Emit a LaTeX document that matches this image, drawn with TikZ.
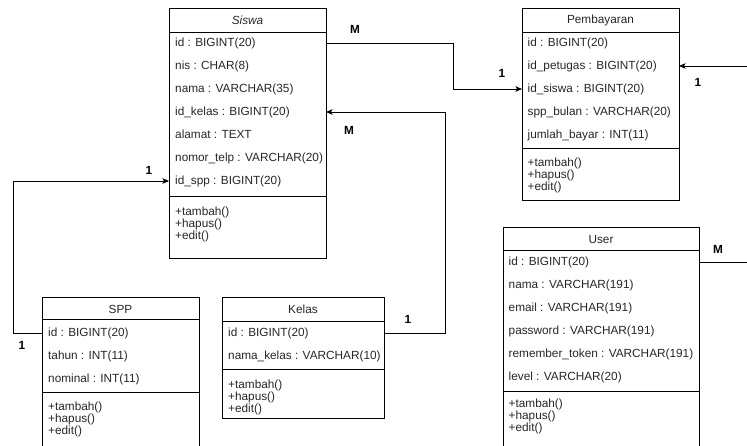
\documentclass[tikz,border=0pt]{standalone}
\usepackage{fontspec}
\setmainfont{Liberation Sans}
\usetikzlibrary{arrows.meta}

\begin{document}
\begin{tikzpicture}[x=1pt, y=-1pt, font=\fontsize{11.8}{14}\selectfont, text=black!85,
	classbox/.style={draw, line width=0.8pt, anchor=north west, inner sep=0pt, outer sep=0pt},
	field/.style={anchor=west, inner sep=0pt, text height=8.7pt, text depth=2.5pt},
	title/.style={inner sep=0pt},
	card/.style={inner sep=0pt, text=black, font=\fontsize{11.8}{14}\selectfont\bfseries},
	link/.style={line width=0.8pt},
	rel/.style={line width=0.8pt, -{Stealth[length=6.5pt, width=5.5pt, inset=1.5pt]}}]
	\path[use as bounding box, clip] (0,0) rectangle (747,445);

	% Siswa
	\node[classbox, minimum width=157pt, minimum height=250pt] (siswa) at (169,8) {};
	\draw[link] (siswa.north west) ++(0,24) -- ++(157,0);
	\draw[link] (siswa.north west) ++(0,188) -- ++(157,0);
	\node[title] (siswa-t) at (247.5,20) {\itshape Siswa};
	\foreach \f [count=\i from 0] in {id : BIGINT(20), nis : CHAR(8), nama : VARCHAR(35), id\_kelas : BIGINT(20), alamat : TEXT, nomor\_telp : VARCHAR(20), id\_spp : BIGINT(20)}
		\node[field] (siswa-\i) at (175,43+23*\i) {\f};
	\foreach \m [count=\i from 0] in {+tambah(), +hapus(), +edit()}
		\node[field] (siswa-m\i) at (175,212+12.4*\i) {\m};

	% Pembayaran
	\node[classbox, minimum width=157pt, minimum height=192pt] (bayar) at (522,8) {};
	\draw[link] (bayar.north west) ++(0,24) -- ++(157,0);
	\draw[link] (bayar.north west) ++(0,140) -- ++(157,0);
	\node[title] (bayar-t) at (600.5,20) {Pembayaran};
	\foreach \f [count=\i from 0] in {id : BIGINT(20), id\_petugas : BIGINT(20), id\_siswa : BIGINT(20), spp\_bulan : VARCHAR(20), jumlah\_bayar : INT(11)}
		\node[field] (bayar-\i) at (527.5,43+23*\i) {\f};
	\foreach \m [count=\i from 0] in {+tambah(), +hapus(), +edit()}
		\node[field] (bayar-m\i) at (527.5,163+12.4*\i) {\m};

	% User
	\node[classbox, minimum width=196pt, minimum height=240pt] (user) at (503,227) {};
	\draw[link] (user.north west) ++(0,23) -- ++(196,0);
	\draw[link] (user.north west) ++(0,164) -- ++(196,0);
	\node[title] (user-t) at (601,239) {User};
	\foreach \f [count=\i from 0] in {id : BIGINT(20), nama : VARCHAR(191), email : VARCHAR(191), password : VARCHAR(191), remember\_token : VARCHAR(191), level : VARCHAR(20)}
		\node[field] (user-\i) at (508.5,262+23*\i) {\f};
	\foreach \m [count=\i from 0] in {+tambah(), +hapus(), +edit()}
		\node[field] (user-m\i) at (508.5,404+12.2*\i) {\m};

	% SPP
	\node[classbox, minimum width=157pt, minimum height=170pt] (spp) at (42,297) {};
	\draw[link] (spp.north west) ++(0,22) -- ++(157,0);
	\draw[link] (spp.north west) ++(0,95) -- ++(157,0);
	\node[title] (spp-t) at (120.5,309) {SPP};
	\foreach \f [count=\i from 0] in {id : BIGINT(20), tahun : INT(11), nominal : INT(11)}
		\node[field] (spp-\i) at (48,333+23*\i) {\f};
	\foreach \m [count=\i from 0] in {+tambah(), +hapus(), +edit()}
		\node[field] (spp-m\i) at (48,407+12.4*\i) {\m};

	% Kelas
	\node[classbox, minimum width=162pt, minimum height=121pt] (kelas) at (222,297) {};
	\draw[link] (kelas.north west) ++(0,24) -- ++(162,0);
	\draw[link] (kelas.north west) ++(0,72) -- ++(162,0);
	\node[title] (kelas-t) at (303,309) {Kelas};
	\foreach \f [count=\i from 0] in {id : BIGINT(20), nama\_kelas : VARCHAR(10)}
		\node[field] (kelas-\i) at (228,333+23*\i) {\f};
	\foreach \m [count=\i from 0] in {+tambah(), +hapus(), +edit()}
		\node[field] (kelas-m\i) at (228,385+12.2*\i) {\m};

	% relations
	\coordinate (petugas-in) at (750,66);
	\coordinate (user-out) at (750,262);
	\draw[rel] (siswa.east |- siswa-0) -- ++(127,0) |- (bayar.west |- bayar-2);
	\draw[rel] (kelas.east |- kelas-0) -- ++(61,0) |- (siswa.east |- siswa-3);
	\draw[rel] (spp.west |- spp-0) -- ++(-29,0) |- (siswa.west |- siswa-6);
	\draw[rel] (petugas-in) -- (bayar.east |- bayar-1);
	\draw[link] (user.east |- user-0) -- (user-out);

	% cardinalities
	\node[card] (c1) at (355,29) {M};
	\node[card] (c2) at (502,73) {1};
	\node[card] (c3) at (349,130) {M};
	\node[card] (c4) at (408,319) {1};
	\node[card] (c5) at (149,170) {1};
	\node[card] (c6) at (22,345) {1};
	\node[card] (c7) at (698,82) {1};
	\node[card] (c8) at (718,249) {M};
\end{tikzpicture}
\end{document}
